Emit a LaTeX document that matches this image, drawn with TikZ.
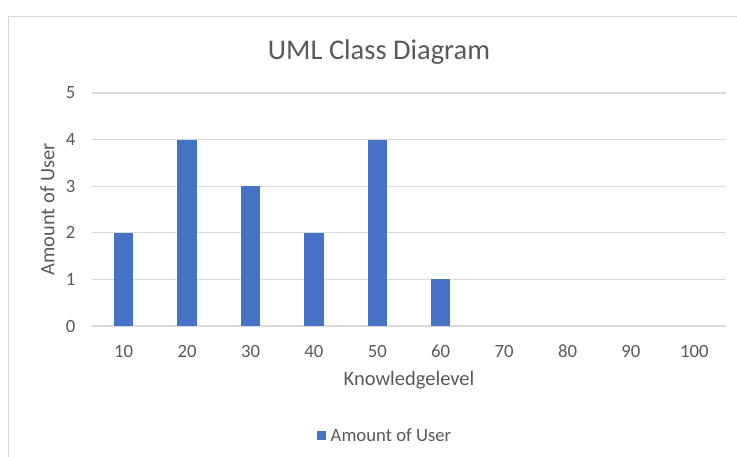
\documentclass[tikz,border=0pt]{standalone}
\usepackage{fontspec}
\setmainfont{Carlito}
\definecolor{barblue}{HTML}{4472C4}
\definecolor{gridgray}{HTML}{D9D9D9}
\definecolor{textgray}{HTML}{595959}
\begin{document}
\begin{tikzpicture}[x=1pt,y=-1pt,
  ticklabel/.style={text=textgray,font=\fontsize{18.7}{22}\selectfont,inner sep=0pt},
  axistitle/.style={text=textgray,font=\fontsize{20.5}{24}\selectfont,inner sep=0pt},
  charttitle/.style={text=textgray,font=\fontsize{28.5}{34}\selectfont,inner sep=0pt},
  gridline/.style={draw=gridgray,line width=1.3pt},
  bar/.style={fill=barblue,draw=none}]
\useasboundingbox (0,0) rectangle (737,457);
\fill[white] (0,0) rectangle (737,457);
% chart area frame (runs past the right and bottom edges)
\draw[draw=gridgray,line width=1.5pt] (8.5,470) -- (8.5,16.5) -- (760,16.5);
% title
\node[charttitle] (title) at (379,52) {UML Class Diagram};
% horizontal gridlines and value labels
\foreach \v in {0,...,5}{
  \draw[gridline] (92,{326-46.6*\v}) -- (726,{326-46.6*\v});
  \node[ticklabel,anchor=east] (y\v) at (75.5,{326-46.6*\v}) {\v};
}
% bars
\foreach \i/\v in {1/2,2/4,3/3,4/2,5/4,6/1}{
  \fill[bar] ({92+63.4*(\i-0.5)-9.75},326) rectangle ({92+63.4*(\i-0.5)+9.75},{326-46.6*\v});
}
% category labels
\foreach \i in {1,...,10}{
  \pgfmathtruncatemacro{\lab}{10*\i}
  \node[ticklabel] (x\i) at ({92+63.4*(\i-0.5)},351.5) {\lab};
}
% axis titles
\node[axistitle] (xtitle) at (409,380.5) {Knowledgelevel};
\node[axistitle,rotate=90] (ytitle) at (47.5,209.5) {Amount of User};
% legend
\fill[barblue] (316.5,430.5) rectangle (326,440);
\node[ticklabel,anchor=west] (legend) at (330.5,435.5) {Amount of User};
\end{tikzpicture}
\end{document}
